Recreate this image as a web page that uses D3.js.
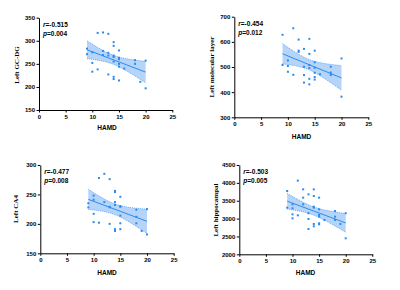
<!DOCTYPE html>
<html><head><meta charset="utf-8">
<script src="https://cdn.jsdelivr.net/npm/d3@7"></script>
<style>body{margin:0;background:#fff}svg{display:block}</style>
</head><body>
<svg id="c" width="400" height="290"></svg>
<script>
// ---- data ----
const xTicks = [0, 5, 10, 15, 20, 25];
const xLabel = "HAMD";

const gcdgX = [9,9,10,10,10,11,11,12,12,12,13,13,13,13,14,14,14,14,14,14,14,15,15,15,15,15,15,16,18,18,19,20,20];
const gcdgY = [283,271,275,252,233,317,238,318,278,269,315,274,268,227,297,289,268,265,255,222,217,279,263,260,250,244,214,240,258,250,211,257,197];
const gcdgTicks = [150,200,250,300,350];

const molX = [9,9,10,10,10,11,11,12,12,12,13,13,13,13,14,14,14,14,14,14,15,15,15,15,15,15,16,18,18,18,20,20];
const molY = [628,508,526,504,481,654,469,609,565,560,572,501,468,438,612,552,508,496,453,431,565,519,497,477,460,450,471,501,478,468,534,382];
const molTicks = [300,400,500,600,700];

const ca4X = [9,9,10,10,10,10,11,11,12,12,13,13,13,13,14,14,14,14,14,14,15,15,15,15,15,15,18,18,18,19,20,20];
const ca4Y = [235,228,248,241,217,203,278,202,285,237,276,229,228,200,256,254,237,232,191,188,246,230,229,214,201,191,224,212,201,188,225,182];
const ca4Ticks = [150,200,250,300];

const hipX = [9,9,10,10,10,10,11,11,12,12,12,13,13,13,13,14,14,14,14,14,14,15,15,15,15,15,15,16,18,18,18,19,20,20];
const hipY = [3772,3306,3399,3287,3119,3007,4062,3091,3819,3586,3399,3679,3150,2989,2709,3819,3632,3334,3306,2849,2784,3586,3259,3101,3054,2868,2840,2961,3213,3054,2961,2849,3150,2448];
const hipTicks = [2000,2500,3000,3500,4000,4500];

const panels = [
  {label:"Left GC-DG", xs:gcdgX, ys:gcdgY, ticks:gcdgTicks, r:"-0.515", p:"0.004",
   box:{l:39, r:172.3, t:17.7, b:110}, xl:{x:107, y:130}, yl:{x:19, y:65}},
  {label:"Left molecular layer", xs:molX, ys:molY, ticks:molTicks, r:"-0.454", p:"0.012",
   box:{l:234.3, r:368.3, t:16.7, b:117.3}, xl:{x:301.5, y:139}, yl:{x:214, y:67}},
  {label:"Left CA4", xs:ca4X, ys:ca4Y, ticks:ca4Ticks, r:"-0.477", p:"0.008",
   box:{l:40.3, r:173.7, t:165, b:253.3}, xl:{x:107, y:275}, yl:{x:18, y:209}},
  {label:"Left hippocampal", xs:hipX, ys:hipY, ticks:hipTicks, r:"-0.503", p:"0.005",
   box:{l:239.3, r:372.3, t:165, b:254.3}, xl:{x:305.5, y:275}, yl:{x:218, y:210}}
];

const blue = "#2a8cf0";
const bandFill = "#a9cdf7";
const svg = d3.select("#c");

function fit(xs, ys){
  const n = xs.length, mx = d3.mean(xs), my = d3.mean(ys);
  let sxx=0, sxy=0;
  for(let i=0;i<n;i++){sxx+=(xs[i]-mx)**2; sxy+=(xs[i]-mx)*(ys[i]-my);}
  const b = sxy/sxx, a = my-b*mx;
  let sse=0; for(let i=0;i<n;i++){sse+=(ys[i]-a-b*xs[i])**2;}
  const s = Math.sqrt(sse/(n-2));
  const t = 2.04;
  return {a,b,ci:x=>t*s*Math.sqrt(1/n+(x-mx)**2/sxx)};
}

panels.forEach(P=>{
  const g = svg.append("g");
  const x = d3.scaleLinear().domain([0,25]).range([P.box.l,P.box.r]);
  const y = d3.scaleLinear().domain(d3.extent(P.ticks)).range([P.box.b,P.box.t]);
  const f = fit(P.xs,P.ys);
  const x0 = d3.min(P.xs), x1 = d3.max(P.xs);
  const grid = d3.range(0,101).map(i=>x0+(x1-x0)*i/100);
  const area = d3.area().x(d=>x(d)).y0(d=>y(f.a+f.b*d-f.ci(d))).y1(d=>y(f.a+f.b*d+f.ci(d)));
  g.append("path").datum(grid).attr("d",area).attr("fill",bandFill).attr("fill-opacity",0.85);
  const up = d3.line().x(d=>x(d)).y(d=>y(f.a+f.b*d+f.ci(d)));
  const lo = d3.line().x(d=>x(d)).y(d=>y(f.a+f.b*d-f.ci(d)));
  [up,lo].forEach(l=>g.append("path").datum(grid).attr("d",l).attr("fill","none")
     .attr("stroke",blue).attr("stroke-width",0.7).attr("stroke-dasharray","1,1"));
  g.append("line").attr("x1",x(x0)).attr("x2",x(x1))
    .attr("y1",y(f.a+f.b*x0)).attr("y2",y(f.a+f.b*x1))
    .attr("stroke",blue).attr("stroke-width",1);
  g.selectAll("rect.pt").data(P.xs.map((d,i)=>[d,P.ys[i]])).enter().append("rect")
    .attr("x",d=>x(d[0])-1).attr("y",d=>y(d[1])-1).attr("width",2).attr("height",2)
    .attr("fill",blue);

  const ax = g.append("g").attr("transform",`translate(0,${P.box.b})`)
    .call(d3.axisBottom(x).tickValues(xTicks).tickFormat(d3.format("d")).tickSize(2.5).tickPadding(2).tickSizeOuter(0));
  const ay = g.append("g").attr("transform",`translate(${P.box.l},0)`)
    .call(d3.axisLeft(y).tickValues(P.ticks).tickFormat(d3.format("d")).tickSize(2.5).tickPadding(1.5).tickSizeOuter(0));
  [ax,ay].forEach(a=>{
    a.selectAll("path,line").attr("stroke","#000").attr("stroke-width",1);
    a.selectAll("text").attr("font-family","Liberation Sans, Arial, sans-serif")
      .attr("font-weight","bold").attr("font-size",6).attr("fill","#000");
  });
  g.append("text").attr("x",P.xl.x).attr("y",P.xl.y).attr("text-anchor","middle")
    .attr("font-family","Liberation Sans, Arial, sans-serif").attr("font-weight","bold")
    .attr("font-size",6.5).text(xLabel);
  g.append("text").attr("transform",`translate(${P.yl.x},${P.yl.y}) rotate(-90)`)
    .attr("text-anchor","middle").attr("font-family","Liberation Serif, Times New Roman, serif")
    .attr("font-weight","bold").attr("font-size",7).text(P.label);
  const t1 = g.append("text").attr("x",P.box.l+4).attr("y",P.box.t+9)
    .attr("font-family","Liberation Sans, Arial, sans-serif").attr("font-weight","bold").attr("font-size",6.5);
  t1.append("tspan").attr("font-style","italic").text("r");
  t1.append("tspan").text("="+P.r);
  const t2 = g.append("text").attr("x",P.box.l+4).attr("y",P.box.t+18)
    .attr("font-family","Liberation Sans, Arial, sans-serif").attr("font-weight","bold").attr("font-size",6.5);
  t2.append("tspan").attr("font-style","italic").text("p");
  t2.append("tspan").text("="+P.p);
});
</script>
</body></html>
